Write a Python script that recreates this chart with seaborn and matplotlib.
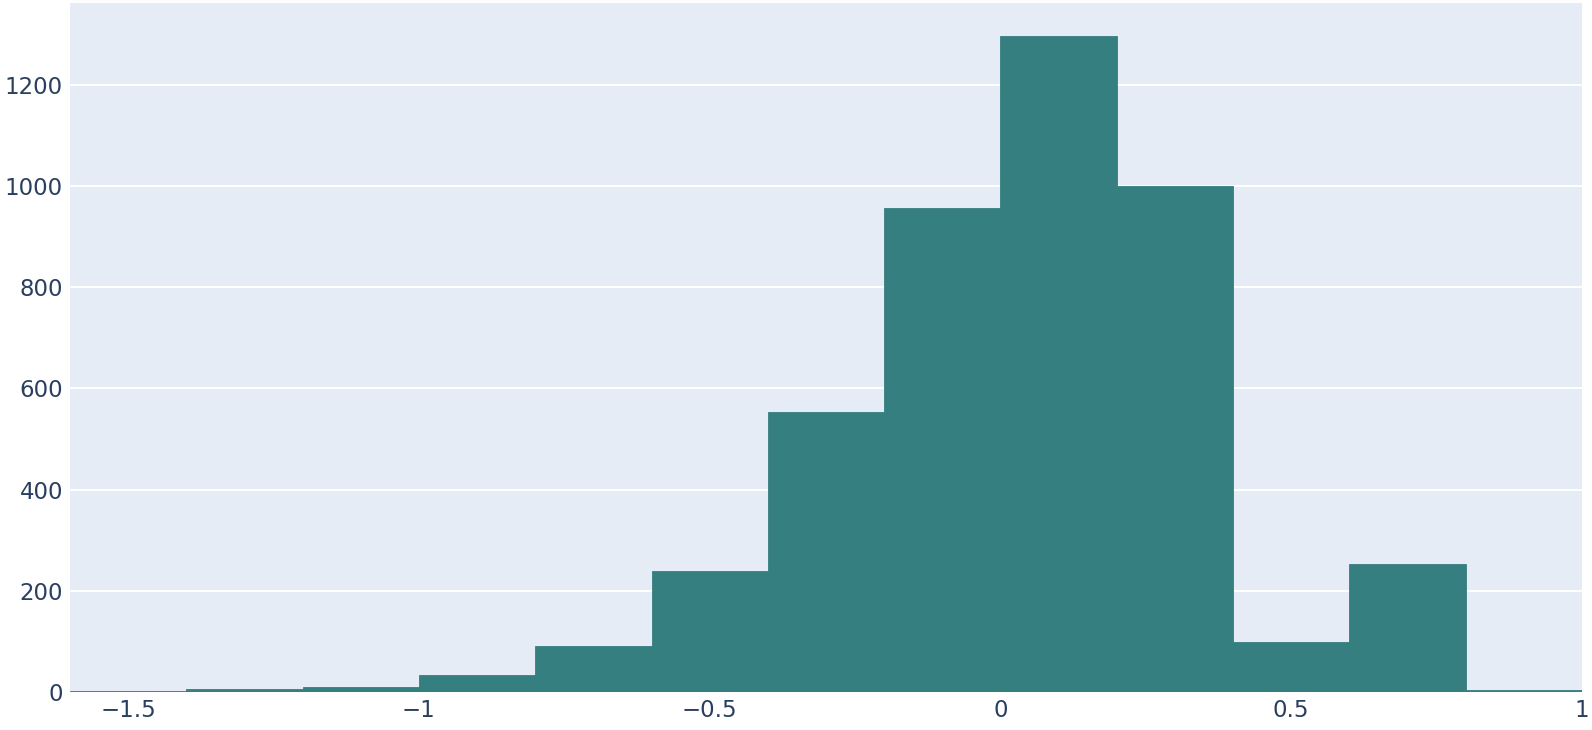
import matplotlib
matplotlib.use("Agg")
import matplotlib.pyplot as plt
import matplotlib.ticker as mticker
import numpy as np
import seaborn as sns

# bin edges and counts
bin_edges = [-1.6, -1.4, -1.2, -1.0, -0.8, -0.6, -0.4, -0.2, 0.0, 0.2, 0.4, 0.6, 0.8, 1.0]
counts = [2, 6, 10, 34, 90, 240, 553, 956, 1296, 1000, 98, 253, 3]
x_ticks = [-1.5, -1, -0.5, 0, 0.5, 1]
y_ticks = [0, 200, 400, 600, 800, 1000, 1200]

BAR_COLOR = "#357f80"
TEXT_COLOR = "#2a3f5f"
BG_COLOR = "#e5ecf6"

sns.set_theme(style="white")
plt.rcParams["font.family"] = ["DejaVu Sans"]

centers = (np.array(bin_edges[:-1]) + np.array(bin_edges[1:])) / 2

fig = plt.figure(figsize=(15.92, 7.30), dpi=100)
ax = fig.add_axes([70 / 1592, 38 / 730, 1512 / 1592, 689 / 730])
ax.set_facecolor(BG_COLOR)

# thin edge in the bar colour hides the seams between neighbouring bins
sns.histplot(x=centers, weights=counts, bins=bin_edges, ax=ax,
             color=BAR_COLOR, alpha=1, edgecolor=BAR_COLOR, linewidth=0.6, zorder=2)

ax.set_xlim(-1.6, 1.0)
ax.set_ylim(0, 1362)
ax.set_xticks(x_ticks)
ax.set_yticks(y_ticks)
fmt = mticker.FuncFormatter(lambda v, _: f"{v:g}".replace("-", "\u2212"))
ax.xaxis.set_major_formatter(fmt)
ax.yaxis.set_major_formatter(fmt)
ax.grid(axis="y", color="white", linewidth=1.4, zorder=1)
ax.set_axisbelow(True)
ax.tick_params(axis="both", labelsize=16.5, colors=TEXT_COLOR, length=0, pad=5)
ax.set_xlabel("")
ax.set_ylabel("")
for s in ax.spines.values():
    s.set_visible(False)

fig.savefig("out.png", dpi=100)
plt.close()
